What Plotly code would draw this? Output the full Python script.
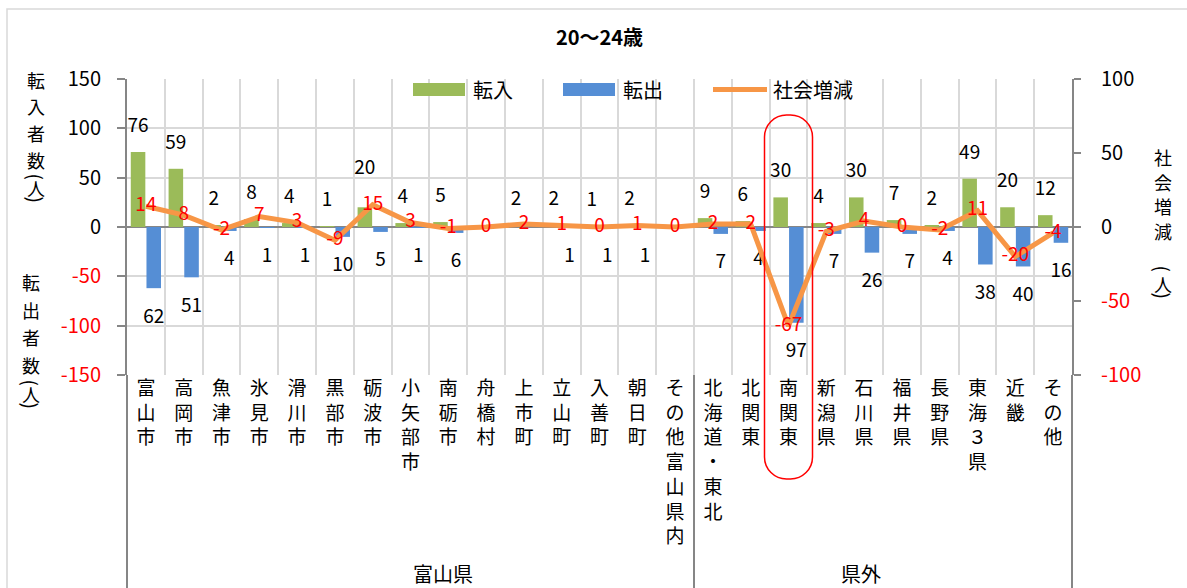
import plotly.graph_objects as go

# ---------------- data ----------------
title_text = "20～24歳"
categories = ["富山市", "高岡市", "魚津市", "氷見市", "滑川市", "黒部市", "砺波市", "小矢部市",
              "南砺市", "舟橋村", "上市町", "立山町", "入善町", "朝日町", "その他富山県内",
              "北海道・東北", "北関東", "南関東", "新潟県", "石川県", "福井県", "長野県",
              "東海３県", "近畿", "その他"]
groups = ["富山県", "県外"]
group_sizes = [15, 10]
transfer_in = [76, 59, 2, 8, 4, 1, 20, 4, 5, 0, 2, 2, 1, 2, 0,
               9, 6, 30, 4, 30, 7, 2, 49, 20, 12]
transfer_out = [62, 51, 4, 1, 1, 10, 5, 1, 6, 0, 0, 1, 1, 1, 0,
                7, 4, 97, 7, 26, 7, 4, 38, 40, 16]
net_change = [14, 8, -2, 7, 3, -9, 15, 3, -1, 0, 2, 1, 0, 1, 0,
              2, 2, -67, -3, 4, 0, -2, 11, -20, -4]
left_ticks = [-150, -100, -50, 0, 50, 100, 150]
right_ticks = [-100, -50, 0, 50, 100]
series_names = ["転入", "転出", "社会増減"]
left_title_in = ("転入者数", "人")
left_title_out = ("転出者数", "人")
right_title = ("社会増減", "人")
highlight = "南関東"

# ---------------- style ----------------
W, H = 1187, 588
L, R, T, B = 127, 1072, 79, 375
GREEN = "#9BBB59"
BLUE = "#558ED5"
ORANGE = "#F79646"
GRID = "#D9D9D9"
AXIS = "#868686"
FONT = "Noto Sans CJK JP"
FS = 19
IN_PAD = 25
OUT_PAD = 30
NUDGE = {6: 14}
BAR_W = 0.385
IN_OFF = -0.40
OUT_OFF = 0.015


def px(x):
    return (x - L) / (R - L)


def py(y):
    return (B - y) / (B - T)


n = len(categories)
idx = list(range(n))


def vert(s):
    return "<br>".join(list(s))


def tick_text(v):
    s = str(v)
    return f'<span style="color:#FF0000">{s}</span>' if v < 0 else s


fig = go.Figure()
fig.add_bar(x=idx, y=transfer_in, offset=IN_OFF, width=BAR_W, marker_color=GREEN,
            marker_line_width=0, name=series_names[0], showlegend=False)
fig.add_bar(x=idx, y=[-v for v in transfer_out], offset=OUT_OFF, width=BAR_W,
            marker_color=BLUE, marker_line_width=0, name=series_names[1], showlegend=False)

in_dx = IN_OFF + BAR_W / 2
out_dx = OUT_OFF + BAR_W / 2
fig.add_scatter(x=[i + in_dx for i in idx],
                y=[v + IN_PAD + NUDGE.get(i, 0) for i, v in enumerate(transfer_in)],
                mode="text", text=[str(v) if v else "" for v in transfer_in],
                textposition="middle center", textfont=dict(size=FS, color="black", family=FONT),
                cliponaxis=False, showlegend=False, hoverinfo="skip")
fig.add_scatter(x=[i + out_dx for i in idx],
                y=[-v - OUT_PAD for v in transfer_out],
                mode="text", text=[str(v) if v else "" for v in transfer_out],
                textposition="middle center", textfont=dict(size=FS, color="black", family=FONT),
                cliponaxis=False, showlegend=False, hoverinfo="skip")
fig.add_scatter(x=idx, y=net_change, yaxis="y2", mode="lines+text",
                line=dict(color=ORANGE, width=5), text=[str(v) for v in net_change],
                textposition="middle center", textfont=dict(size=FS, color="#FF0000", family=FONT),
                cliponaxis=False, showlegend=False, name=series_names[2])

shapes = []
annotations = []

# outer border
shapes.append(dict(type="rect", xref="paper", yref="paper", x0=px(7), x1=px(1205),
                   y0=py(605), y1=py(9), line=dict(color=GRID, width=1.5), layer="below"))
# group dividers under the axis
bounds = [0]
for g in group_sizes:
    bounds.append(bounds[-1] + g)
for b in bounds:
    shapes.append(dict(type="line", xref="paper", yref="paper", x0=b / n, x1=b / n,
                       y0=0, y1=py(595), line=dict(color=AXIS, width=2)))
for gi, g in enumerate(groups):
    annotations.append(dict(xref="paper", yref="paper", x=(bounds[gi] + bounds[gi + 1]) / 2 / n,
                            y=py(573), text=g, showarrow=False, yanchor="middle",
                            font=dict(size=FS + 1, color="black", family=FONT)))

# highlight stadium
hi = categories.index(highlight)
k = 0.5523
Lh, Rh, Th, Bh, r = -24, 24, 112, -252, 22
path = (f"M{Lh},{Bh + r} L{Lh},{Th - r} "
        f"C{Lh},{Th - r + k * r} {Lh + r - k * r},{Th} {Lh + r},{Th} "
        f"L{Rh - r},{Th} "
        f"C{Rh - r + k * r},{Th} {Rh},{Th - r + k * r} {Rh},{Th - r} "
        f"L{Rh},{Bh + r} "
        f"C{Rh},{Bh + r - k * r} {Rh - r + k * r},{Bh} {Rh - r},{Bh} "
        f"L{Lh + r},{Bh} "
        f"C{Lh + r - k * r},{Bh} {Lh},{Bh + r - k * r} {Lh},{Bh + r} Z")
shapes.append(dict(type="path", xref="paper", yref="paper", xsizemode="pixel", ysizemode="pixel",
                   xanchor=(hi + 0.5) / n, yanchor=0.5, path=path,
                   line=dict(color="#FF0000", width=1.5)))

# custom legend
shapes.append(dict(type="rect", xref="paper", yref="paper", x0=px(413), x1=px(465),
                   y0=py(96), y1=py(83), fillcolor=GREEN, line=dict(width=0)))
shapes.append(dict(type="rect", xref="paper", yref="paper", x0=px(563), x1=px(615),
                   y0=py(96), y1=py(83), fillcolor=BLUE, line=dict(width=0)))
shapes.append(dict(type="line", xref="paper", yref="paper", x0=px(713), x1=px(767),
                   y0=py(89.5), y1=py(89.5), line=dict(color=ORANGE, width=5)))
for xx, t in [(471, series_names[0]), (621, series_names[1]), (771, series_names[2])]:
    annotations.append(dict(xref="paper", yref="paper", x=px(xx), y=py(89), text=t,
                            xanchor="left", yanchor="middle", showarrow=False,
                            font=dict(size=FS + 1, color="black", family=FONT)))


def ann(x, y, text, size, angle=0):
    annotations.append(dict(xref="paper", yref="paper", x=px(x), y=py(y), text=text,
                            textangle=angle, showarrow=False, xanchor="center",
                            yanchor="middle", font=dict(size=size, color="black", family=FONT)))


def stacked(parts, x, y_first, pitch, gap_open, gap_unit, gap_close, size=18):
    main, unit = parts
    for i, ch in enumerate(main):
        ann(x, y_first + i * pitch, ch, size)
    y_last = y_first + pitch * (len(main) - 1)
    ann(x, y_last + gap_open, "(", size + 1, 90)
    ann(x, y_last + gap_unit, unit, size)
    ann(x, y_last + gap_close, ")", size + 1, 90)


stacked(left_title_in, 36, 80, 26.5, 17, 28, 40)
stacked(left_title_out, 31, 282, 27.5, 18, 29, 41)
stacked(right_title, 1163, 157, 24.5, 38, 53, 65)

fig.update_layout(
    width=W, height=H, autosize=False,
    margin=dict(l=L, r=W - R, t=T, b=H - B, pad=0),
    paper_bgcolor="white", plot_bgcolor="white",
    font=dict(family=FONT, size=FS, color="black"),
    title=dict(text=f"<b>{title_text}</b>", x=0.5, xref="paper", y=1 - 38 / H, yanchor="middle",
               xanchor="center", font=dict(size=FS + 1, family=FONT, color="black")),
    barmode="overlay",
    showlegend=False,
    hovermode=False,
    xaxis=dict(range=[-0.5, n - 0.5], tickvals=idx, ticktext=[vert(c) for c in categories],
               showgrid=False, zeroline=False, showline=False, ticks="",
               tickfont=dict(size=FS, family=FONT, color="black"), tickangle=0,
               minor=dict(tickvals=[i - 0.5 for i in range(n + 1)], showgrid=True,
                          gridcolor=GRID, gridwidth=1.5, ticks="")),
    yaxis=dict(range=[left_ticks[0], left_ticks[-1]], tickvals=left_ticks,
               ticktext=[tick_text(v) for v in left_ticks],
               showgrid=True, gridcolor=GRID, gridwidth=1.5,
               zeroline=True, zerolinecolor=AXIS, zerolinewidth=2,
               showline=True, linecolor=AXIS, linewidth=2,
               ticks="outside", ticklen=8, tickcolor=AXIS, tickwidth=2, ticklabelstandoff=12,
               tickfont=dict(size=FS + 1, family=FONT, color="black")),
    yaxis2=dict(range=[right_ticks[0], right_ticks[-1]], tickvals=right_ticks,
                ticktext=[tick_text(v) for v in right_ticks], overlaying="y", side="right",
                showgrid=False, zeroline=False, showline=True, linecolor=AXIS, linewidth=2,
                ticks="outside", ticklen=7, tickcolor=AXIS, tickwidth=2, ticklabelstandoff=16,
                tickfont=dict(size=FS + 1, family=FONT, color="black")),
    shapes=shapes,
    annotations=annotations,
)

fig.write_html("out.html", config={"displayModeBar": False},
               post_script="document.body.style.margin='0';")
